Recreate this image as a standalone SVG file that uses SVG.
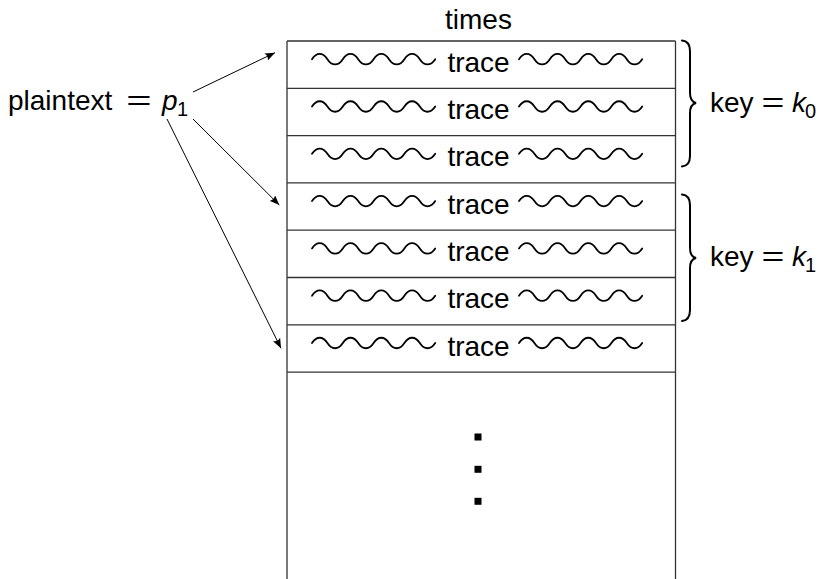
<svg xmlns="http://www.w3.org/2000/svg" width="827" height="579" viewBox="0 0 827 579">
  <style>
    text { font-family: "Liberation Sans", Arial, sans-serif; fill: #000; }
    .lbl { font-size: 28px; }
    .mid { text-anchor: middle; }
    .it { font-style: italic; }
    .sub { font-size: 20px; }
    .cell { fill: none; stroke: #333; stroke-width: 1.3; }
    .wave { fill: none; stroke: #000; stroke-width: 1.8; stroke-linecap: round; }
    .brace { fill: none; stroke: #000; stroke-width: 2; stroke-linecap: round; }
    .arrow { fill: none; stroke: #000; stroke-width: 1; marker-end: url(#head); }
  </style>
  <defs>
    <marker id="head" viewBox="0 0 10 8" refX="10" refY="4" markerWidth="10" markerHeight="8" markerUnits="userSpaceOnUse" orient="auto">
      <path d="M0,0 Q3,4 0,8 L10,4 Z" fill="#000"/>
    </marker>
    <!-- one wavy stroke, 4 periods, drawn from its own origin -->
    <path id="snake" d="M0,0 c4.5,-7 10.9,-7 15.4,0 s10.9,7 15.4,0 s10.9,-7 15.4,0 s10.9,7 15.4,0 s10.9,-7 15.4,0 s10.9,7 15.4,0 s10.9,-7 15.4,0 s10.9,7 15.4,0"/>
    <g id="traceRow">
      <use href="#snake" class="wave" x="312" y="0"/>
      <text class="lbl mid" x="478.5" y="12.5">trace</text>
      <use href="#snake" class="wave" x="519" y="0"/>
    </g>
  </defs>

  <text id="times" class="lbl mid" x="478.5" y="28.5">times</text>

  <g id="table">
    <path class="cell" d="M287,41 H675.5 M287,41 V580 M675.5,41 V580 M287,88.3 H675.5 M287,135.6 H675.5 M287,182.9 H675.5 M287,230.2 H675.5 M287,277.5 H675.5 M287,324.8 H675.5 M287,372.1 H675.5"/>
  </g>

  <g id="row1"><use href="#traceRow" y="59.2"/></g>
  <g id="row2"><use href="#traceRow" y="106.5"/></g>
  <g id="row3"><use href="#traceRow" y="153.8"/></g>
  <g id="row4"><use href="#traceRow" y="201.1"/></g>
  <g id="row5"><use href="#traceRow" y="248.4"/></g>
  <g id="row6"><use href="#traceRow" y="295.7"/></g>
  <g id="row7"><use href="#traceRow" y="343"/></g>

  <g id="ellipsis" fill="#000">
    <rect x="474.5" y="433.5" width="7" height="7"/>
    <rect x="474.5" y="465.8" width="7" height="7"/>
    <rect x="474.5" y="497.8" width="7" height="7"/>
  </g>

  <g id="plaintext">
    <text class="lbl" x="8" y="110">plaintext</text>
    <text class="lbl mid" transform="translate(139 110) scale(1.55 1)">=</text>
    <text class="lbl it" x="162" y="110">p</text>
    <text class="sub" x="177" y="116">1</text>
  </g>

  <g id="connectors">
    <line class="arrow" x1="193" y1="92" x2="275" y2="52.7"/>
    <line class="arrow" x1="193" y1="119" x2="279.3" y2="205"/>
    <line class="arrow" x1="167" y1="119" x2="281" y2="348.3"/>
  </g>

  <g id="key0">
    <path class="brace" d="M682,40.5 C687.5,41 690,44 690,51 L690,93 C690,99 692,102 696,103 C692,104 690,107 690,113 L690,156 C690,163 687.5,166 682,166.5"/>
    <text class="lbl" x="710" y="111.5">key</text>
    <text class="lbl mid" transform="translate(773 111.5) scale(1.4 1)">=</text>
    <text class="lbl it" x="792" y="111.5">k</text>
    <text class="sub" x="805" y="117.5">0</text>
  </g>

  <g id="key1">
    <path class="brace" d="M682,194.5 C687.5,195 690,198 690,205 L690,248 C690,254 692,257 696,258 C692,259 690,262 690,268 L690,310 C690,317 687.5,320.5 682,321"/>
    <text class="lbl" x="710" y="266">key</text>
    <text class="lbl mid" transform="translate(773 266) scale(1.4 1)">=</text>
    <text class="lbl it" x="792" y="266">k</text>
    <text class="sub" x="805" y="272">1</text>
  </g>
</svg>
